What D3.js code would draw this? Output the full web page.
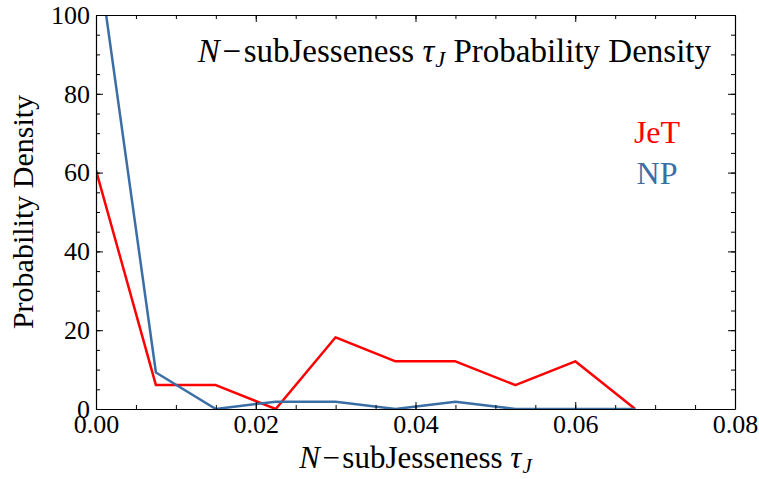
<!DOCTYPE html>
<html lang="en">
<head>
<meta charset="UTF-8">
<title>N-subJesseness</title>
<script src="https://cdn.jsdelivr.net/npm/d3@7"></script>
<style>
    body { margin: 0; background: #fff; }
    svg text { font-family: "Liberation Serif", "DejaVu Serif", serif; fill: #000; }
</style>
</head>
<body>
<svg id="chart" width="759" height="479"></svg>
<script>
// bin positions (left edges) and densities
var binX = [0, 0.0075, 0.015, 0.0225, 0.03, 0.0375, 0.045, 0.0525, 0.06, 0.0675];
var jetValues = [60.6, 6.06, 6.06, 0, 18.2, 12.1, 12.1, 6.06, 12.1, 0];
var npValues = [118.5, 9.26, 0, 1.85, 1.85, 0, 1.85, 0, 0, 0];
var xTicks = [0, 0.02, 0.04, 0.06, 0.08];
var yTicks = [0, 20, 40, 60, 80, 100];
var seriesNames = ["JeT", "NP"];
var seriesColors = ["#ff0000", "#3a6ea5"];

var margin = {left: 96, right: 24, top: 15, bottom: 70};
var width = 759, height = 479;
var svg = d3.select("#chart");

var x = d3.scaleLinear().domain([0, 0.08]).range([margin.left, width - margin.right]);
var y = d3.scaleLinear().domain([0, 100]).range([height - margin.bottom, margin.top]);

// clip for the lines
svg.append("clipPath").attr("id", "clip")
    .append("rect")
    .attr("x", x(0)).attr("y", y(100))
    .attr("width", x(0.08) - x(0)).attr("height", y(0) - y(100));

var line = d3.line()
    .x(function (d) { return x(d[0]); })
    .y(function (d) { return y(d[1]); });

[jetValues, npValues].forEach(function (vals, i) {
    svg.append("path")
        .datum(binX.map(function (b, j) { return [b, vals[j]]; }))
        .attr("clip-path", "url(#clip)")
        .attr("fill", "none")
        .attr("stroke", seriesColors[i])
        .attr("stroke-width", 2.5)
        .attr("stroke-linejoin", "round")
        .attr("d", line);
});

// frame axes, ticks pointing inward like Mathematica
var xMinor = d3.range(0, 0.0801, 0.005);
var yMinor = d3.range(0, 100.1, 5);

function frame(axisFn, scale, major, minor, pos, showLabels, fmt) {
    var g = svg.append("g").attr("transform", pos);
    g.call(axisFn(scale).tickValues(minor).tickSizeInner(-4).tickSizeOuter(0).tickFormat(""));
    g.select(".domain").remove();
    var g2 = svg.append("g").attr("transform", pos);
    g2.call(axisFn(scale).tickValues(major).tickSizeInner(-7).tickSizeOuter(0)
        .tickPadding(6)
        .tickFormat(showLabels ? fmt : ""));
    g2.select(".domain").attr("stroke", "#000").attr("stroke-width", 1.2);
    g2.selectAll("text").style("font-size", "26px");
    svg.selectAll(".tick line").attr("stroke", "#000").attr("stroke-width", 1);
}

frame(d3.axisBottom, x, xTicks, xMinor, "translate(0," + y(0) + ")", true, d3.format(".2f"));
frame(d3.axisTop, x, xTicks, xMinor, "translate(0," + y(100) + ")", false);
frame(d3.axisLeft, y, yTicks, yMinor, "translate(" + x(0) + ",0)", true, d3.format("d"));
frame(d3.axisRight, y, yTicks, yMinor, "translate(" + x(0.08) + ",0)", false);

// N−subJesseness τ_J with a little room round the minus
function tauLabel(sel, size) {
    sel.append("tspan").style("font-style", "italic").text("N");
    sel.append("tspan").attr("dx", size * 0.08).text("\u2212");
    sel.append("tspan").attr("dx", size * 0.08).text("subJesseness ");
    sel.append("tspan").style("font-style", "italic").text("\u03C4");
    sel.append("tspan").style("font-style", "italic").style("font-size", (size * 0.68) + "px")
        .attr("dx", 1).attr("dy", size * 0.16).text("J");
}

// axis titles
var xl = svg.append("text")
    .attr("x", (x(0) + x(0.08)) / 2).attr("y", 468)
    .attr("text-anchor", "middle").style("font-size", "31px");
tauLabel(xl, 31);

svg.append("text")
    .attr("transform", "translate(33," + ((y(0) + y(100)) / 2) + ") rotate(-90)")
    .attr("text-anchor", "middle").style("font-size", "30px")
    .text("Probability Density");

// plot title inside frame
var t = svg.append("text")
    .attr("x", 711).attr("y", 62)
    .attr("text-anchor", "end").style("font-size", "33px");
tauLabel(t, 33);
t.append("tspan").attr("dy", -33 * 0.16).text(" Probability Density");

// legend
seriesNames.forEach(function (n, i) {
    svg.append("text")
        .attr("x", 657).attr("y", 143 + i * 41)
        .attr("text-anchor", "middle")
        .style("font-size", "32px")
        .style("fill", seriesColors[i])
        .text(n);
});
</script>
</body>
</html>
